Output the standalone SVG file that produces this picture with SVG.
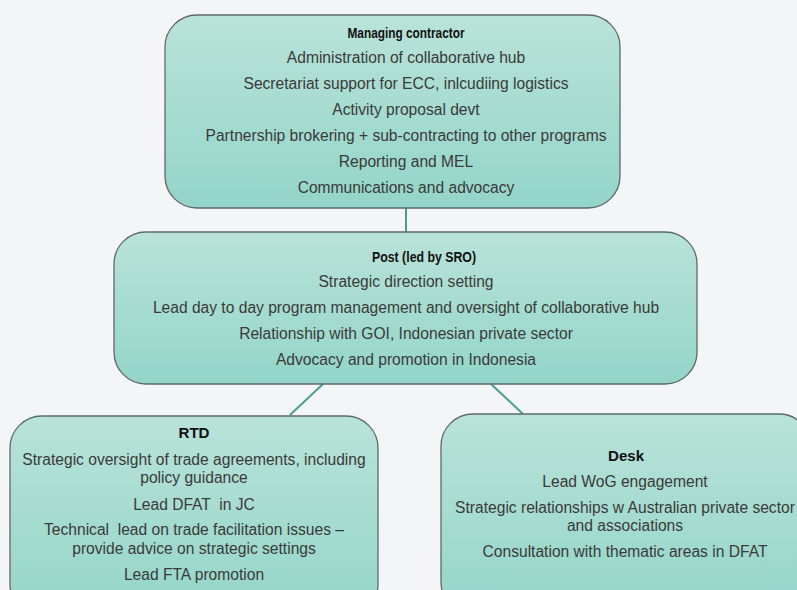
<svg xmlns="http://www.w3.org/2000/svg" width="797" height="590" viewBox="0 0 797 590">
<defs>
<linearGradient id="g" x1="0" y1="0" x2="0" y2="1">
<stop offset="0" stop-color="#b9e3d9"/>
<stop offset="1" stop-color="#93d5c8"/>
</linearGradient>
<style>
.box{fill:url(#g);stroke:#5d6b68;stroke-width:1.3}
.t{font-family:"Liberation Sans",Arial,sans-serif;font-size:15.6px;fill:#3a3a3a;text-anchor:middle;white-space:pre}
.h{font-weight:bold;font-size:15px;fill:#111}
.c{stroke:#4a9e91;stroke-width:2;fill:none}
</style>
</defs>
<rect width="797" height="590" fill="#f4f5f7"/>
<g id="connectors">
<line class="c" x1="406" y1="208" x2="406" y2="232"/>
<line class="c" x1="323" y1="384" x2="290" y2="415"/>
<line class="c" x1="491" y1="384" x2="523" y2="414"/>
</g>
<g id="managing">
<rect class="box" x="165" y="15" width="455" height="193" rx="32"/>
<text class="t h" x="406" y="38" textLength="117" lengthAdjust="spacingAndGlyphs">Managing contractor</text>
<text class="t" x="406" y="63">Administration of collaborative hub</text>
<text class="t" x="406" y="89">Secretariat support for ECC, inlcudiing logistics</text>
<text class="t" x="406" y="115">Activity proposal devt</text>
<text class="t" x="406" y="141">Partnership brokering + sub-contracting to other programs</text>
<text class="t" x="406" y="167">Reporting and MEL</text>
<text class="t" x="406" y="193">Communications and advocacy</text>
</g>
<g id="post">
<rect class="box" x="114" y="232" width="583" height="152" rx="32"/>
<text class="t h" x="372" y="262" textLength="104" lengthAdjust="spacingAndGlyphs" style="text-anchor:start">Post (led by SRO)</text>
<text class="t" x="406" y="287">Strategic direction setting</text>
<text class="t" x="406" y="313">Lead day to day program management and oversight of collaborative hub</text>
<text class="t" x="406" y="339">Relationship with GOI, Indonesian private sector</text>
<text class="t" x="406" y="365">Advocacy and promotion in Indonesia</text>
</g>
<g id="rtd">
<rect class="box" x="10" y="416" width="368" height="200" rx="32"/>
<text class="t h" x="194" y="438" textLength="31" lengthAdjust="spacingAndGlyphs">RTD</text>
<text class="t" x="194" y="465">Strategic oversight of trade agreements, including</text>
<text class="t" x="194" y="483">policy guidance</text>
<text class="t" x="194" y="510">Lead DFAT  in JC</text>
<text class="t" x="194" y="535">Technical  lead on trade facilitation issues –</text>
<text class="t" x="194" y="554">provide advice on strategic settings</text>
<text class="t" x="194" y="580">Lead FTA promotion</text>
</g>
<g id="desk">
<rect class="box" x="441" y="414" width="370" height="200" rx="32"/>
<text class="t h" x="626" y="461" textLength="36" lengthAdjust="spacingAndGlyphs">Desk</text>
<text class="t" x="625" y="487">Lead WoG engagement</text>
<text class="t" x="625" y="513">Strategic relationships w Australian private sector</text>
<text class="t" x="625" y="531">and associations</text>
<text class="t" x="625" y="557">Consultation with thematic areas in DFAT</text>
</g>
</svg>
